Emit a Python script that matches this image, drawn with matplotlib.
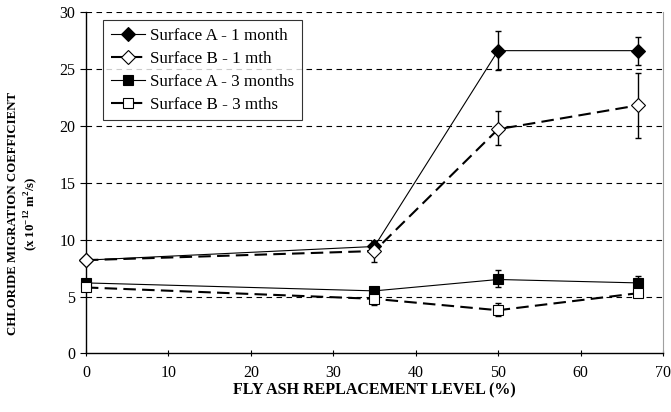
import matplotlib
matplotlib.use("Agg")
import matplotlib.pyplot as plt

plt.rcParams['font.family'] = ['Liberation Serif', 'DejaVu Serif']
plt.rcParams['mathtext.fontset'] = 'custom'
plt.rcParams['mathtext.rm'] = 'Liberation Serif'
plt.rcParams['mathtext.bf'] = 'Liberation Serif:bold'

fly_ash = [0, 35, 50, 67]

a_1m = [8.2, 9.4, 26.6, 26.6]
a_1m_lo = [8.2, 8.9, 24.9, 25.3]
a_1m_hi = [8.2, 9.9, 28.3, 27.8]

b_1m = [8.2, 9.0, 19.7, 21.8]
b_1m_lo = [8.2, 8.0, 18.3, 18.9]
b_1m_hi = [8.2, 9.9, 21.3, 24.6]

a_3m = [6.2, 5.5, 6.5, 6.2]
a_3m_lo = [6.2, 5.1, 5.8, 5.5]
a_3m_hi = [6.2, 5.8, 7.3, 6.8]

b_3m = [5.8, 4.8, 3.8, 5.3]
b_3m_lo = [5.8, 4.3, 3.3, 5.0]
b_3m_hi = [5.8, 5.2, 4.4, 5.6]

labels = ["Surface A - 1 month", "Surface B - 1 mth",
          "Surface A - 3 months", "Surface B - 3 mths"]


def yerr(vals, lo, hi):
    return [[v - l for v, l in zip(vals, lo)], [h - v for v, h in zip(vals, hi)]]


fig = plt.figure(figsize=(6.71, 4.12), dpi=100)
ax = fig.add_axes([0.128, 0.142, 0.86, 0.829])

series = [
    (a_1m, a_1m_lo, a_1m_hi, 'D', 'black', '-', 0.8, 7),
    (b_1m, b_1m_lo, b_1m_hi, 'D', 'white', (0, (6, 3)), 1.5, 7),
    (a_3m, a_3m_lo, a_3m_hi, 's', 'black', '-', 0.8, 7.5),
    (b_3m, b_3m_lo, b_3m_hi, 's', 'white', (0, (6, 3)), 1.5, 7.5),
]
for (vals, lo, hi, mk, fc, ls, lw, ms), lab in zip(series, labels):
    ax.errorbar(fly_ash, vals, yerr=yerr(vals, lo, hi), fmt='none',
                ecolor='black', elinewidth=1.0, capsize=2.5, capthick=1.0, zorder=2)
    ax.plot(fly_ash, vals, color='black', linestyle=ls, linewidth=lw,
            marker=mk, markerfacecolor=fc, markeredgecolor='black',
            markeredgewidth=0.8, markersize=ms, label=lab, zorder=3, clip_on=False)

ax.set_xlim(0, 70)
ax.set_ylim(0, 30)
ax.set_xticks(range(0, 71, 10))
ax.set_yticks(range(0, 31, 5))
for y in range(5, 31, 5):
    ax.axhline(y, color='black', linestyle=(0, (5, 4)), linewidth=0.8, zorder=1)

ax.spines['top'].set_visible(False)
ax.spines['right'].set_color('#a0a0a0')
ax.spines['left'].set_linewidth(1.0)
ax.spines['bottom'].set_linewidth(1.0)
ax.tick_params(axis='x', direction='inout', length=5, width=0.8, labelsize=11.5, pad=6)
ax.tick_params(axis='y', direction='out', length=4, width=0.8, labelsize=11.5)

ax.set_xlabel('FLY ASH REPLACEMENT LEVEL (%)', fontsize=11.5, fontweight='bold', labelpad=1)
ax.set_ylabel('CHLORIDE MIGRATION COEFFICIENT\n(x 10$^{\\mathbf{-12}}$ m$^{\\mathbf{2}}$/s)',
              fontsize=9.3, fontweight='bold', linespacing=1.25)
ax.yaxis.set_label_coords(-0.079, 0.41)

leg = ax.legend(loc='upper left', bbox_to_anchor=(0.0295, 0.975), borderaxespad=0,
                fontsize=12.3, frameon=True, fancybox=False, edgecolor='black',
                handlelength=2.0, handletextpad=0.3, borderpad=0.45, labelspacing=0.4)
leg.get_frame().set_linewidth(0.8)

fig.savefig('out.png', dpi=100)
